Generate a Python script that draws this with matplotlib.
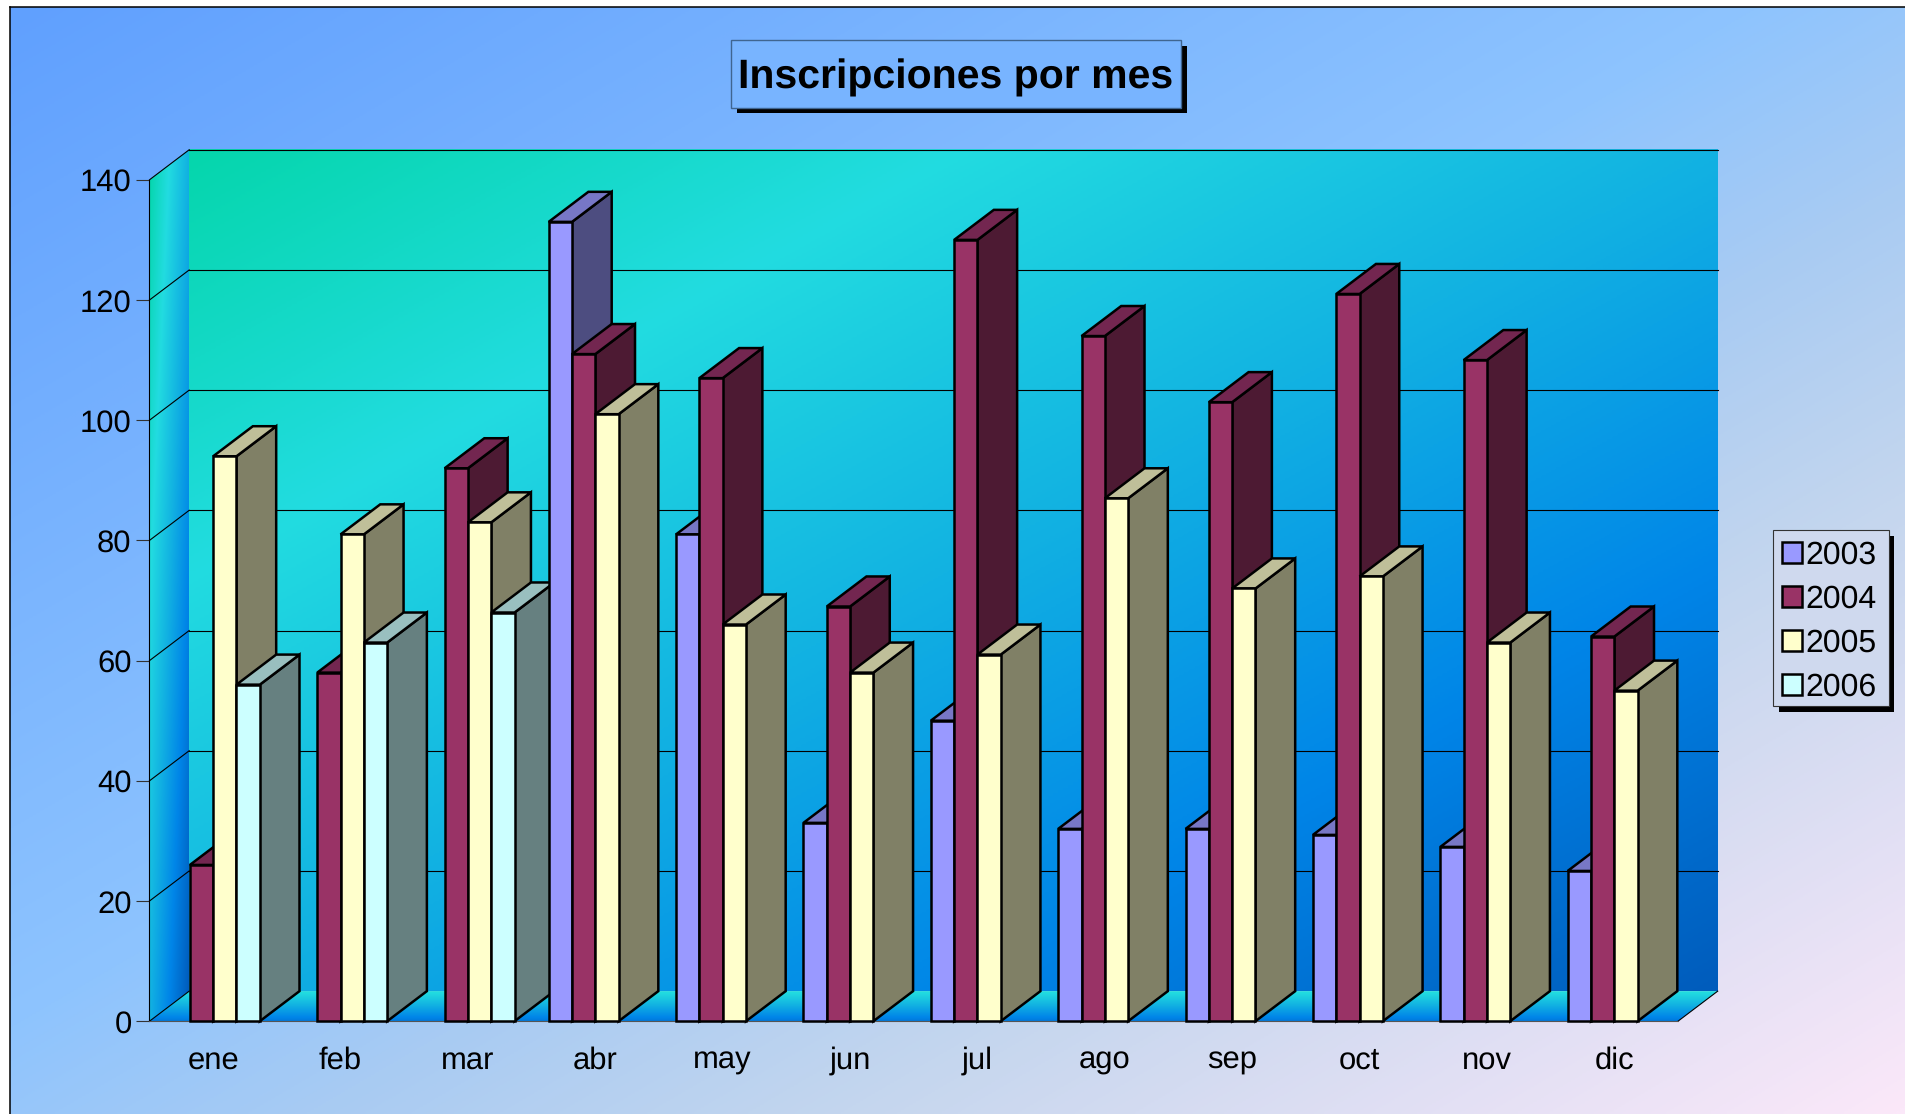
import numpy as np
import matplotlib
matplotlib.use("Agg")
import matplotlib.pyplot as plt
from matplotlib.colors import LinearSegmentedColormap
from matplotlib.patches import Polygon, Rectangle
import matplotlib.patheffects as pe

months = ["ene", "feb", "mar", "abr", "may", "jun", "jul", "ago", "sep", "oct", "nov", "dic"]
years = ["2003", "2004", "2005", "2006"]
v2003 = [np.nan, np.nan, np.nan, 133, 81, 33, 50, 32, 32, 31, 29, 25]
v2004 = [26, 58, 92, 111, 107, 69, 130, 114, 103, 121, 110, 64]
v2005 = [94, 81, 83, 101, 66, 58, 61, 87, 72, 74, 63, 55]
v2006 = [56, 63, 68, np.nan, np.nan, np.nan, np.nan, np.nan, np.nan, np.nan, np.nan, np.nan]
yticks = [0, 20, 40, 60, 80, 100, 120, 140]
series = [v2003, v2004, v2005, v2006]
front = ["#9999FF", "#993366", "#FFFFCC", "#CCFFFF"]
top = ["#7777C6", "#732650", "#BFBF99", "#99BFBF"]
side = ["#4D4D80", "#4D1A33", "#808066", "#668080"]

W, H = 1906, 1114
plt.rcParams["font.family"] = ["Liberation Sans", "DejaVu Sans"]
plt.rcParams["text.hinting"] = "no_hinting"
plt.rcParams["text.hinting_factor"] = 1
fig = plt.figure(figsize=(W / 100, H / 100), dpi=100, facecolor="white")


def rect(l, t, r, b):
    return [l / W, 1 - b / H, (r - l) / W, (b - t) / H]


bg_cmap = LinearSegmentedColormap.from_list(
    "bg", [(0, "#60A0FF"), (0.46, "#8EC4FE"), (0.58, "#A8CBF3"), (0.72, "#C4D6EE"), (1, "#FBE8F9")])
wall_cmap = LinearSegmentedColormap.from_list(
    "wall", [(0, "#05D6AC"), (0.25, "#22DCE0"), (0.5, "#12B2E2"), (0.75, "#0085E8"), (1, "#005CBC")])

# background
bg = fig.add_axes(rect(10, 7, W, H), zorder=-1)
gx, gy = np.meshgrid(np.linspace(0, 1, 500), np.linspace(0, 1, 500))
bg.imshow((gx + gy) / 2, cmap=bg_cmap, vmin=0, vmax=1, aspect="auto", extent=(0, 1, 1, 0))
bg.set_xticks([])
bg.set_yticks([])
bg.spines["right"].set_visible(False)
bg.spines["bottom"].set_visible(False)
for s in ("left", "top"):
    bg.spines[s].set_linewidth(1.1)

# main axes (front plane of the 3D box)
ax = fig.add_axes(rect(149.5, 179.8, 1678, 1021.2), zorder=1)
ax.patch.set_visible(False)
DX = 39.7 / 127.4
DY = 5.0
BAR_W = 0.183
YMAX = yticks[-1]
XMAX = len(months)

# back wall
xx, yy = np.meshgrid(np.linspace(0, 1, 300), np.linspace(0, 1, 300))
wall = ax.imshow((xx + yy) / 2, cmap=wall_cmap, vmin=0, vmax=1, aspect="auto",
                 extent=(DX, XMAX + DX, DY, YMAX + DY), zorder=0.1, clip_on=False)
# left wall
xg, yg = np.meshgrid(np.linspace(0, 1, 120), np.linspace(YMAX + DY, 0, 400))
vv = np.clip(1 - (yg - DY * xg) / YMAX, 0, 1)
lw = ax.imshow((xg + vv) / 2, cmap=wall_cmap, vmin=0, vmax=1, aspect="auto",
               extent=(0, DX, 0, YMAX + DY), zorder=0.1)
lw.set_clip_box(fig.bbox)
lw.set_clip_path(Polygon([(0, 0), (DX, DY), (DX, YMAX + DY), (0, YMAX)], transform=ax.transData))
# floor
fg = np.linspace(0.2, 0.82, 100)[:, None]
fl = ax.imshow(fg, cmap=wall_cmap, vmin=0, vmax=1, aspect="auto",
               extent=(0, XMAX + DX, 0, DY), zorder=0.1)
fl.set_clip_box(fig.bbox)
fl.set_clip_path(Polygon([(0, 0), (XMAX, 0), (XMAX + DX, DY), (DX, DY)], transform=ax.transData))

# gridlines
for yv in yticks:
    if yv > 0:
        ax.plot([DX, XMAX + DX], [yv + DY, yv + DY], color="black", lw=0.8, zorder=0.5, clip_on=False)
    ax.plot([0, DX], [yv, yv + DY], color="black", lw=0.8, zorder=0.5, clip_on=False)
ax.plot([XMAX, XMAX + DX], [0, DY], color="black", lw=0.8, zorder=0.5, clip_on=False)

# bars
z = 3.0
for i in range(XMAX):
    for s, vals in enumerate(series):
        v = vals[i]
        if np.isnan(v):
            continue
        x0 = i + 0.5 + (s - 2) * BAR_W
        x1 = x0 + BAR_W
        kw = dict(edgecolor="black", linewidth=1.8, joinstyle="miter", clip_on=False)
        ax.add_patch(Polygon([(x0, 0), (x1, 0), (x1, v), (x0, v)], facecolor=front[s], zorder=z + 0.2, **kw))
        ax.add_patch(Polygon([(x0, v), (x1, v), (x1 + DX, v + DY), (x0 + DX, v + DY)], facecolor=top[s], zorder=z + 0.1, **kw))
        ax.add_patch(Polygon([(x1, 0), (x1 + DX, DY), (x1 + DX, v + DY), (x1, v)], facecolor=side[s], zorder=z, **kw))
        z += 1

ax.set_xlim(0, XMAX)
ax.set_ylim(0, YMAX)
ax.set_xticks(np.arange(XMAX) + 0.5)
ax.set_xticklabels(months)
ax.set_yticks(yticks)
ax.tick_params(axis="x", length=0, pad=18, labelsize=22.3)
ax.tick_params(axis="y", length=9.4, width=0.8, color="#333333", pad=3.5, labelsize=22.3)
ax.spines["top"].set_visible(False)
ax.spines["right"].set_visible(False)
ax.spines["left"].set_linewidth(0.8)
ax.spines["bottom"].set_linewidth(0.8)
ax.spines["bottom"].set_color("#555555")

shadow = [pe.SimplePatchShadow(offset=(4, -4), shadow_rgbFace="black", alpha=1.0), pe.Normal()]

# legend frame and legend
frame = Rectangle((1773.3 / W, 1 - 706 / H), 115.4 / W, 175.7 / H, transform=fig.transFigure,
                  facecolor="#CFD9EE", edgecolor="#333333", linewidth=0.8, zorder=0.5)
frame.set_path_effects(shadow)
fig.add_artist(frame)
handles = [Rectangle((0, 0), 1, 1, facecolor=front[i], edgecolor="black", linewidth=1.8) for i in range(4)]
leg = ax.legend(handles, years, loc="upper left", bbox_to_anchor=(1781.7 / W, 1 - 540.5 / H),
                bbox_transform=fig.transFigure, fontsize=22.7, frameon=False, borderaxespad=0,
                borderpad=0, labelspacing=0.45, handlelength=0.65, handleheight=0.65,
                handletextpad=0.11)
leg.set_zorder(100)

# title
box = Rectangle((731 / W, 1 - 107.7 / H), 450 / W, 67.7 / H, transform=fig.transFigure,
                facecolor="#78B4FF", edgecolor="#3F6590", linewidth=1.0, zorder=5)
box.set_path_effects(shadow)
fig.add_artist(box)
fig.suptitle("Inscripciones por mes", x=956 / W, y=1 - 88.3 / H, ha="center", va="baseline",
             fontsize=29.85, fontweight="bold", color="black", zorder=6)

fig.savefig("out.png", dpi=100)
